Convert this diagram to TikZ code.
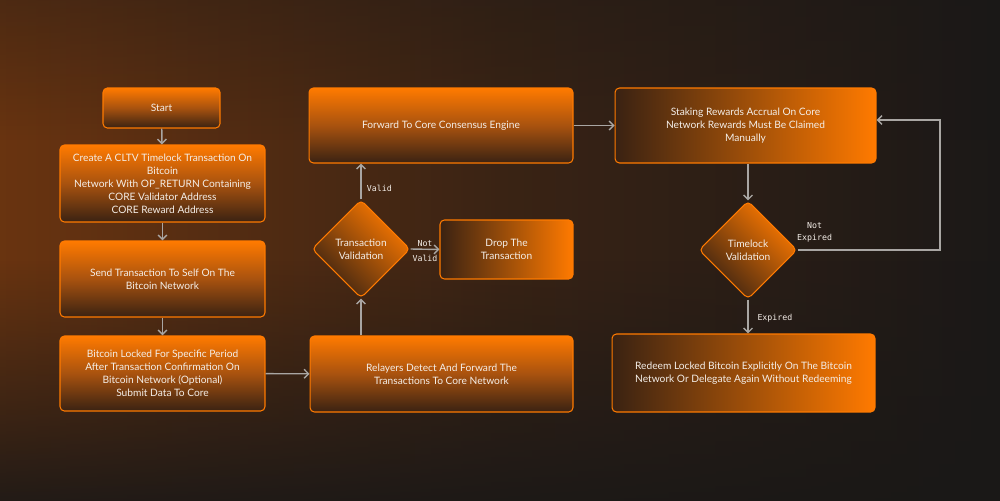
\documentclass[tikz,border=0pt]{standalone}
\usepackage{fontspec}
\setmainfont{Lato}
\newfontfamily\labelfont{DejaVu Sans Mono}
\usetikzlibrary{shapes.geometric, arrows.meta, fadings}

\definecolor{bgdark}{HTML}{1A1817}
\definecolor{bgglow}{HTML}{6A3410}
\definecolor{boxorange}{HTML}{FF7A00}
\definecolor{boxmid}{HTML}{A8520F}
\definecolor{boxdark}{HTML}{3A2212}
\definecolor{lineclr}{HTML}{A9A6A3}
\definecolor{textclr}{HTML}{F4EEE8}

\tikzset{
	box/.style={draw=boxorange, line width=0.6pt, rounded corners=2.5pt, inner sep=0pt, align=center, text=textclr, font=\fontsize{5.8}{7.4}\selectfont},
	vbox/.style={box, top color=boxorange, bottom color=boxdark, middle color=boxmid},
	hbox/.style={box, left color=boxdark, right color=boxorange},
	check/.style={box, diamond, aspect=1, minimum size=1.96cm, top color=boxorange, bottom color=boxdark, shading angle=-45},
	arr/.style={draw=lineclr, line width=0.8pt, -{Straight Barb[length=2.5pt, width=5pt]}},
	lbl/.style={text=textclr, font=\labelfont\fontsize{4.7}{6.6}\selectfont, inner sep=1pt, align=center}
}

\begin{document}
\begin{tikzpicture}[x=0.02cm, y=-0.02cm]
	\useasboundingbox (0,0) rectangle (1000,500);
	\begin{scope}
		\clip (0,0) rectangle (1000,500);
		\fill[bgdark] (-10,-10) rectangle (1010,510);
		\shade[left color=bgglow, right color=bgdark, middle color=bgglow!40!bgdark] (-10,-10) rectangle (1010,510);
		\fill[bgdark, path fading=north] (-10,260) rectangle (1010,530);
		\fill[bgdark, opacity=0.4, path fading=south] (-10,-20) rectangle (1010,140);
	\end{scope}

	\node[vbox, minimum width=2.34cm, minimum height=0.8cm] (start) at (161.5,108) {Start};
	\node[vbox, minimum width=4.1cm, minimum height=1.54cm] (create) at (162.5,183.5) {Create A CLTV Timelock Transaction On\\Bitcoin\\Network With OP\_RETURN Containing\\CORE Validator Address\\CORE Reward Address};
	\node[vbox, minimum width=4.1cm, minimum height=1.52cm] (send) at (162.5,279) {Send Transaction To Self On The\\Bitcoin Network};
	\node[vbox, minimum width=4.1cm, minimum height=1.5cm] (locked) at (162.5,373.5) {Bitcoin Locked For Specific Period\\After Transaction Confirmation On\\Bitcoin Network (Optional)\\Submit Data To Core};
	\node[vbox, minimum width=5.26cm, minimum height=1.52cm] (relay) at (441.5,374) {Relayers Detect And Forward The\\Transactions To Core Network};
	\node[check] (txcheck) at (361,249) {Transaction\\Validation};
	\node[hbox, minimum width=2.66cm, minimum height=1.18cm] (drop) at (506.5,249.5) {Drop The\\Transaction};
	\node[vbox, minimum width=5.28cm, minimum height=1.5cm] (forward) at (441,125.5) {Forward To Core Consensus Engine};
	\node[hbox, minimum width=5.22cm, minimum height=1.5cm] (stake) at (745.5,125.5) {Staking Rewards Accrual On Core\\Network Rewards Must Be Claimed\\Manually};
	\node[check] (lockcheck) at (748,250) {Timelock\\Validation};
	\node[hbox, minimum width=5.26cm, minimum height=1.56cm] (redeem) at (743.5,373) {Redeem Locked Bitcoin Explicitly On The Bitcoin\\Network Or Delegate Again Without Redeeming};
	\coordinate (loopA) at (940,250);
	\coordinate (loopB) at (940,120);

	\draw[arr] (start) -- (create);
	\draw[arr] (create) -- (send);
	\draw[arr] (send) -- (locked);
	\draw[arr] (locked) -- (relay);
	\draw[arr] (relay.north -| txcheck.south) -- (txcheck.south);
	\draw[arr] (txcheck.north) -- node[lbl, right=2pt, pos=0.3] {Valid} (forward.south -| txcheck.north);
	\draw[arr] (txcheck.east) -- node[lbl, above=0.3pt] {Not} node[lbl, below=2pt] {Valid} (drop.west);
	\draw[arr] (forward) -- (stake);
	\draw[arr] (stake.south -| lockcheck.north) -- (lockcheck.north);
	\draw[arr] (lockcheck.south) -- node[lbl, right=4pt, pos=0.55] {Expired} (redeem.north -| lockcheck.south);
	\draw[arr] (lockcheck.east) -- node[lbl, above=3pt, pos=0.12] {Not\\Expired} (loopA) -- (loopB) -- (loopB -| stake.east);
\end{tikzpicture}
\end{document}
